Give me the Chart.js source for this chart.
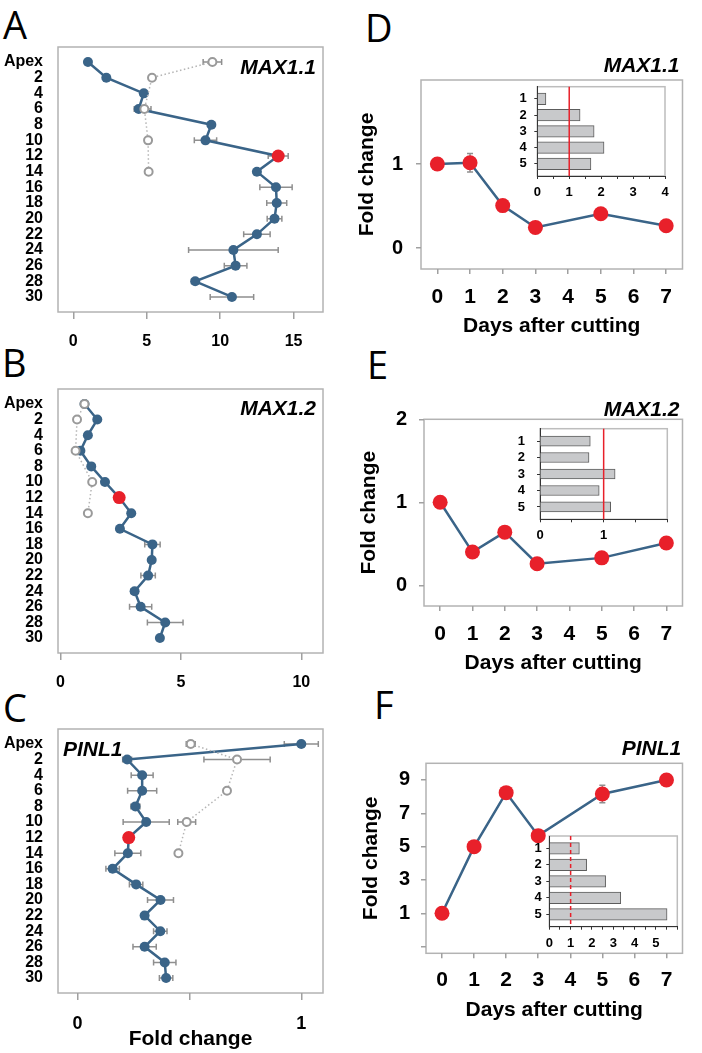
<!DOCTYPE html>
<html>
<head>
<meta charset="utf-8">
<script src="https://cdn.jsdelivr.net/npm/chart.js@4.4.1/dist/chart.umd.min.js"></script>
<style>
    html, body { margin: 0; padding: 0; background: #fff; }
    #figure { position: relative; width: 702px; height: 1053px; overflow: hidden; }
    canvas { position: absolute; }
    .letter { position: absolute; font-family: "Open Sans", sans-serif; font-size: 38px; line-height: 38px; color: #000; }
</style>
</head>
<body>
<div id="figure">
    <div class="letter" style="left:3px;top:5px">A</div>
    <div class="letter" style="left:2px;top:343px">B</div>
    <div class="letter" style="left:3px;top:688px">C</div>
    <div class="letter" style="left:365px;top:8px">D</div>
    <div class="letter" style="left:367px;top:345px">E</div>
    <div class="letter" style="left:374px;top:685px">F</div>

    <canvas id="chartA" width="330" height="320" style="left:0;top:40px"></canvas>
    <canvas id="chartB" width="330" height="320" style="left:0;top:382px"></canvas>
    <canvas id="chartC" width="330" height="331" style="left:0;top:722px"></canvas>
    <canvas id="chartD" width="340" height="300" style="left:350px;top:50px"></canvas>
    <canvas id="chartE" width="340" height="290" style="left:350px;top:390px"></canvas>
    <canvas id="chartF" width="340" height="300" style="left:350px;top:735px"></canvas>
    <canvas id="insetD" width="165" height="130" style="left:505px;top:80px"></canvas>
    <canvas id="insetE" width="167" height="125" style="left:505px;top:422px"></canvas>
    <canvas id="insetF" width="168" height="125" style="left:515px;top:830px"></canvas>
</div>
<script>
// nodes along the stem, counted from the apex
const depthLabels = ['Apex', '2', '4', '6', '8', '10', '12', '14', '16', '18', '20', '22', '24', '26', '28', '30'];
const markedNode = '12';

// A - MAX1.1
const max11Stem      = [1.0, 2.25, 4.8, 4.45, 9.4, 9.0, 13.95, 12.5, 13.8, 13.85, 13.7, 12.5, 10.9, 11.05, 8.3, 10.8];
const max11StemErr   = [0, 0, 0.2, 0.3, 0.2, 0.76, 0.68, 0, 1.1, 0.68, 0.5, 0.9, 3.05, 0.77, 0.25, 1.48];
const max11Intact    = [9.47, 5.36, null, 4.84, null, 5.09, null, 5.13, null, null, null, null, null, null, null, null];
const max11IntactErr = [0.63, 0, 0, 0.45, 0, 0, 0, 0, 0, 0, 0, 0, 0, 0, 0, 0];

// B - MAX1.2
const max12Stem      = [1.0, 1.53, 1.14, 0.83, 1.28, 1.85, 2.44, 2.94, 2.47, 3.82, 3.79, 3.64, 3.08, 3.33, 4.35, 4.13];
const max12StemErr   = [0, 0, 0, 0, 0, 0, 0, 0, 0, 0.32, 0.1, 0.3, 0.15, 0.46, 0.74, 0.05];
const max12Intact    = [1.0, 0.69, null, 0.63, null, 1.32, null, 1.14, null, null, null, null, null, null, null, null];
const max12IntactErr = [0, 0, 0, 0, 0, 0, 0, 0, 0, 0, 0, 0, 0, 0, 0, 0];

// C - PINL1
const pinl1Stem      = [1.0, 0.222, 0.289, 0.289, 0.259, 0.307, 0.229, 0.225, 0.157, 0.262, 0.371, 0.30, 0.37, 0.30, 0.39, 0.396];
const pinl1StemErr   = [0.076, 0.02, 0.049, 0.065, 0.02, 0.103, 0.02, 0.058, 0.03, 0.03, 0.058, 0, 0.03, 0.052, 0.05, 0.03];
const pinl1Intact    = [0.506, 0.713, null, 0.668, null, 0.488, null, 0.451, null, null, null, null, null, null, null, null];
const pinl1IntactErr = [0.02, 0.148, 0, 0, 0, 0.04, 0, 0, 0, 0, 0, 0, 0, 0, 0, 0];

// D-F - after cutting
const days = [0, 1, 2, 3, 5, 7];
const dayTicks = [0, 1, 2, 3, 4, 5, 6, 7];
const max11Days    = [1.0, 1.015, 0.505, 0.245, 0.407, 0.265];
const max11DaysErr = [0, 0.11, 0.03, 0.02, 0.03, 0.02];
const max12Days    = [1.0, 0.40, 0.64, 0.26, 0.33, 0.51];
const max12DaysErr = [0, 0.03, 0.03, 0.02, 0.02, 0.03];
const pinl1Days    = [1.0, 5.0, 8.24, 5.66, 8.16, 9.0];
const pinl1DaysErr = [0, 0.2, 0.25, 0.2, 0.53, 0.15];

// insets
const insetRows = [1, 2, 3, 4, 5];
const max11Inset = [0.27, 1.34, 1.78, 2.09, 1.68];
const max12Inset = [0.79, 0.77, 1.18, 0.93, 1.11];
const pinl1Inset = [1.41, 1.75, 2.64, 3.35, 5.52];

const BLUE = '#3a6488';
const RED = '#e8202a';
const GRAY = '#9a9a9a';
const BOX = '#b3b3b3';

Chart.defaults.font.family = '"Liberation Sans", Arial, sans-serif';
Chart.defaults.font.weight = 'bold';
Chart.defaults.color = '#000';
Chart.defaults.animation = false;
Chart.defaults.responsive = false;
Chart.defaults.plugins.legend.display = false;
Chart.defaults.plugins.tooltip.enabled = false;

// fixed axis sizes, and no extra room for labels sticking out
const noPadding = axis => { axis.paddingLeft = axis.paddingRight = axis.paddingTop = axis.paddingBottom = 0; };
const fixTicks = values => axis => { axis.ticks = values.map(v => ({ value: v })); };
const fixWidth = w => axis => { axis.width = w; noPadding(axis); };
const fixHeight = h => axis => { axis.height = h; noPadding(axis); };

// grey frame around the plot area
const plotBox = {
    id: 'plotBox',
    beforeDraw(chart, args, opts) {
        if (!opts.color) return;
        const { left, top, right, bottom } = chart.chartArea;
        const ctx = chart.ctx;
        ctx.save();
        ctx.strokeStyle = opts.color;
        ctx.lineWidth = 1.5;
        ctx.strokeRect(left, top, right - left, bottom - top);
        ctx.restore();
    }
};

// horizontal or vertical error bars, read from point.err
const errorBars = {
    id: 'errorBars',
    beforeDatasetsDraw(chart) {
        const ctx = chart.ctx;
        const xs = chart.scales.x, ys = chart.scales.y;
        chart.data.datasets.forEach(ds => {
            if (!ds.errorDir) return;
            ctx.save();
            ctx.strokeStyle = '#8f8f8f';
            ctx.lineWidth = 1.5;
            ds.data.forEach(p => {
                if (!p.err) return;
                ctx.beginPath();
                if (ds.errorDir === 'x') {
                    const y = ys.getPixelForValue(p.y);
                    const x0 = xs.getPixelForValue(p.x - p.err);
                    const x1 = xs.getPixelForValue(p.x + p.err);
                    ctx.moveTo(x0, y); ctx.lineTo(x1, y);
                    ctx.moveTo(x0, y - 3); ctx.lineTo(x0, y + 3);
                    ctx.moveTo(x1, y - 3); ctx.lineTo(x1, y + 3);
                } else {
                    const x = xs.getPixelForValue(p.x);
                    const y0 = ys.getPixelForValue(p.y - p.err);
                    const y1 = ys.getPixelForValue(p.y + p.err);
                    ctx.moveTo(x, y0); ctx.lineTo(x, y1);
                    ctx.moveTo(x - 3, y0); ctx.lineTo(x + 3, y0);
                    ctx.moveTo(x - 3, y1); ctx.lineTo(x + 3, y1);
                }
                ctx.stroke();
            });
            ctx.restore();
        });
    }
};

// italic gene name placed relative to the plot area
const geneLabel = {
    id: 'geneLabel',
    afterDraw(chart, args, opts) {
        if (!opts.text) return;
        const { left, right, top } = chart.chartArea;
        const ctx = chart.ctx;
        ctx.save();
        ctx.font = 'italic bold 21px "Liberation Sans", Arial, sans-serif';
        ctx.fillStyle = '#000';
        ctx.textAlign = opts.align;
        ctx.textBaseline = 'middle';
        const x = opts.align === 'right' ? right - opts.dx : left + opts.dx;
        ctx.fillText(opts.text, x, top + opts.dy);
        ctx.restore();
    }
};

// red reference line in the insets
const refLine = {
    id: 'refLine',
    afterDatasetsDraw(chart, args, opts) {
        if (opts.value === undefined) return;
        const x = chart.scales.x.getPixelForValue(opts.value);
        const { top, bottom } = chart.chartArea;
        const ctx = chart.ctx;
        ctx.save();
        ctx.strokeStyle = RED;
        ctx.lineWidth = 1.5;
        ctx.setLineDash(opts.dash || []);
        ctx.beginPath();
        ctx.moveTo(x, top);
        ctx.lineTo(x, bottom);
        ctx.stroke();
        ctx.restore();
    }
};

Chart.register(plotBox, errorBars, geneLabel, refLine);

function stemPoints(values, errors) {
    return values
        .map((v, i) => v === null ? null : { x: v, y: i, err: errors[i] })
        .filter(p => p !== null);
}

function buildStemChart(id, stem, stemErr, intact, intactErr, gene, axis) {
    const marked = depthLabels.indexOf(markedNode);
    const config = {
        type: 'line',
        data: {
            datasets: [
                {
                    label: 'intact',
                    data: stemPoints(intact, intactErr),
                    errorDir: 'x',
                    borderColor: '#b5b5b5',
                    borderWidth: 1.5,
                    borderDash: [1.5, 2.5],
                    pointRadius: 4,
                    pointBorderWidth: 2,
                    pointBorderColor: GRAY,
                    pointBackgroundColor: '#fff'
                },
                {
                    label: 'stem',
                    data: stemPoints(stem, stemErr),
                    errorDir: 'x',
                    borderColor: BLUE,
                    borderWidth: 2.5,
                    pointBorderWidth: 0,
                    pointRadius: depthLabels.map((l, i) => i === marked ? 6.5 : 5),
                    pointBackgroundColor: depthLabels.map((l, i) => i === marked ? RED : BLUE)
                }
            ]
        },
        options: {
            devicePixelRatio: 1,
            layout: { padding: { top: 7, right: 7, left: 0, bottom: 0 } },
            plugins: {
                plotBox: { color: BOX },
                geneLabel: gene
            },
            scales: {
                x: {
                    type: 'linear',
                    min: axis.min,
                    max: axis.max,
                    afterBuildTicks: fixTicks(axis.ticks),
                    afterFit: fixHeight(axis.height),
                    border: { display: false },
                    grid: { drawOnChartArea: false, tickLength: 7, color: '#a0a0a0', lineWidth: 1.5 },
                    ticks: {
                        padding: axis.pad,
                        autoSkip: false,
                        maxRotation: 0,
                        font: { size: axis.fontSize },
                        callback: (v, i) => axis.labels[i]
                    },
                    title: {
                        display: !!axis.title,
                        text: axis.title || '',
                        font: { size: 21 },
                        padding: { top: 0, bottom: 1 }
                    }
                },
                y: {
                    type: 'linear',
                    reverse: true,
                    min: -0.96,
                    max: 15.96,
                    afterBuildTicks: fixTicks(depthLabels.map((l, i) => i)),
                    afterFit: fixWidth(58),
                    border: { display: false },
                    grid: { display: false, drawTicks: false },
                    ticks: {
                        padding: 15,
                        autoSkip: false,
                        font: { size: 16 },
                        callback: (v, i) => depthLabels[i]
                    }
                }
            }
        }
    };
    return new Chart(document.getElementById(id), config);
}

function buildDayChart(id, values, errors, gene, lay) {
    const config = {
        type: 'line',
        data: {
            datasets: [{
                label: 'fold change',
                data: days.map((d, i) => ({ x: d, y: values[i], err: errors[i] })),
                errorDir: 'y',
                borderColor: BLUE,
                borderWidth: 2.5,
                pointRadius: 7.5,
                pointBorderWidth: 0,
                pointBackgroundColor: RED
            }]
        },
        options: {
            devicePixelRatio: 1,
            layout: { padding: { top: lay.padTop, right: lay.padRight, left: 0, bottom: 0 } },
            plugins: {
                plotBox: { color: BOX },
                geneLabel: gene
            },
            scales: {
                x: {
                    type: 'linear',
                    min: -0.5,
                    max: 7.5,
                    afterBuildTicks: fixTicks(dayTicks),
                    afterFit: fixHeight(lay.xHeight),
                    border: { display: false },
                    grid: { drawOnChartArea: false, tickLength: 5, color: '#a0a0a0', lineWidth: 1.5 },
                    ticks: { padding: lay.xPad, autoSkip: false, maxRotation: 0, font: { size: 21 } },
                    title: {
                        display: true,
                        text: 'Days after cutting',
                        font: { size: 21 },
                        padding: { top: 0, bottom: lay.xTitlePad }
                    }
                },
                y: {
                    type: 'linear',
                    min: lay.yMin,
                    max: lay.yMax,
                    afterBuildTicks: fixTicks(lay.yTicks),
                    afterFit: fixWidth(lay.yWidth),
                    border: { display: false },
                    grid: { drawOnChartArea: false, tickLength: 5, color: '#a0a0a0', lineWidth: 1.5 },
                    ticks: {
                        padding: lay.yPad,
                        autoSkip: false,
                        font: { size: 20 },
                        callback: (v, i) => lay.yLabels[i]
                    },
                    title: {
                        display: true,
                        text: 'Fold change',
                        font: { size: 21 },
                        padding: { top: lay.yTitlePad, bottom: 0 }
                    }
                }
            }
        }
    };
    return new Chart(document.getElementById(id), config);
}

function buildInset(id, values, lay) {
    const xTicks = [];
    for (let v = 0; v <= lay.xMax; v += 0.5) xTicks.push(v);
    const config = {
        type: 'bar',
        data: {
            datasets: [{
                label: 'inset',
                data: values.map((v, i) => ({ x: v, y: insetRows[i] })),
                backgroundColor: '#c8c9cb',
                borderColor: '#5c5c5c',
                borderWidth: 1,
                barThickness: lay.barThickness
            }]
        },
        options: {
            devicePixelRatio: 1,
            indexAxis: 'y',
            layout: { padding: { top: lay.padTop, right: lay.padRight, left: 0, bottom: 0 } },
            plugins: {
                plotBox: { color: '#bdbdbd' },
                refLine: { value: 1, dash: lay.dash }
            },
            scales: {
                x: {
                    type: 'linear',
                    min: 0,
                    max: lay.xMax,
                    afterBuildTicks: fixTicks(xTicks),
                    afterFit: fixHeight(lay.xHeight),
                    border: { display: true, color: '#333', width: 1 },
                    grid: { drawOnChartArea: false, tickLength: 3, color: '#333' },
                    ticks: {
                        padding: lay.xPad,
                        autoSkip: false,
                        maxRotation: 0,
                        font: { size: 13 },
                        callback: v => lay.xLabels.includes(v) ? String(v) : ''
                    }
                },
                y: {
                    type: 'linear',
                    reverse: true,
                    offset: false,
                    min: 0.25,
                    max: 5.75,
                    afterBuildTicks: fixTicks(insetRows),
                    afterFit: fixWidth(lay.yWidth),
                    border: { display: true, color: '#333', width: 1 },
                    grid: { offset: false, drawOnChartArea: false, tickLength: 3, color: '#333' },
                    ticks: { padding: lay.yPad, autoSkip: false, font: { size: 13 } }
                }
            }
        }
    };
    return new Chart(document.getElementById(id), config);
}

buildStemChart('chartA', max11Stem, max11StemErr, max11Intact, max11IntactErr,
    { text: 'MAX1.1', align: 'right', dx: 7, dy: 21 },
    { min: -1.04, max: 17.0, ticks: [0, 5, 10, 15], labels: ['0', '5', '10', '15'], height: 48, pad: 13, fontSize: 16 });

buildStemChart('chartB', max12Stem, max12StemErr, max12Intact, max12IntactErr,
    { text: 'MAX1.2', align: 'right', dx: 7, dy: 20.5 },
    { min: -0.1, max: 10.9, ticks: [0, 5, 10], labels: ['0', '5', '10'], height: 49, pad: 13, fontSize: 16 });

buildStemChart('chartC', pinl1Stem, pinl1StemErr, pinl1Intact, pinl1IntactErr,
    { text: 'PINL1', align: 'left', dx: 5, dy: 21.5 },
    { min: -0.087, max: 1.097, ticks: [0, 0.5, 1], labels: ['0', '', '1'], height: 60, pad: 13, fontSize: 18, title: 'Fold change' });

buildDayChart('chartD', max11Days, max11DaysErr,
    { text: 'MAX1.1', align: 'right', dx: 3, dy: -14 },
    { padTop: 30, padRight: 5, yMin: -0.25, yMax: 2, yTicks: [0, 1], yLabels: ['0', '1'],
      yWidth: 71, yPad: 13, yTitlePad: 5, xHeight: 81, xPad: 11, xTitlePad: 11 });

buildDayChart('chartE', max12Days, max12DaysErr,
    { text: 'MAX1.2', align: 'right', dx: 3, dy: -9 },
    { padTop: 29.3, padRight: 6.7, yMin: -0.25, yMax: 2, yTicks: [0, 1, 2], yLabels: ['0', '1', '2'],
      yWidth: 74, yPad: 12, yTitlePad: 7, xHeight: 74, xPad: 11, xTitlePad: 4.4 });

buildDayChart('chartF', pinl1Days, pinl1DaysErr,
    { text: 'PINL1', align: 'right', dx: 1.3, dy: -14 },
    { padTop: 28.3, padRight: 6.7, yMin: -1.4, yMax: 10, yTicks: [-1, 1, 3, 5, 7, 9], yLabels: ['', '1', '3', '5', '7', '9'],
      yWidth: 76, yPad: 11, yTitlePad: 9, xHeight: 81.7, xPad: 9.6, xTitlePad: 12.4 });

buildInset('insetD', max11Inset,
    { xMax: 4, xLabels: [0, 1, 2, 3, 4], padTop: 6.7, padRight: 5, yWidth: 32.3, yPad: 7.6, xHeight: 34, xPad: 6, barThickness: 11.5, dash: [] });

buildInset('insetE', max12Inset,
    { xMax: 2, xLabels: [0, 1], padTop: 6.7, padRight: 4.7, yWidth: 35, yPad: 12, xHeight: 27.7, xPad: 5, barThickness: 10, dash: [] });

buildInset('insetF', pinl1Inset,
    { xMax: 6, xLabels: [0, 1, 2, 3, 4, 5], padTop: 6, padRight: 5.7, yWidth: 34.3, yPad: 4.6, xHeight: 28.3, xPad: 5.5, barThickness: 11.5, dash: [4, 3] });
</script>
</body>
</html>
